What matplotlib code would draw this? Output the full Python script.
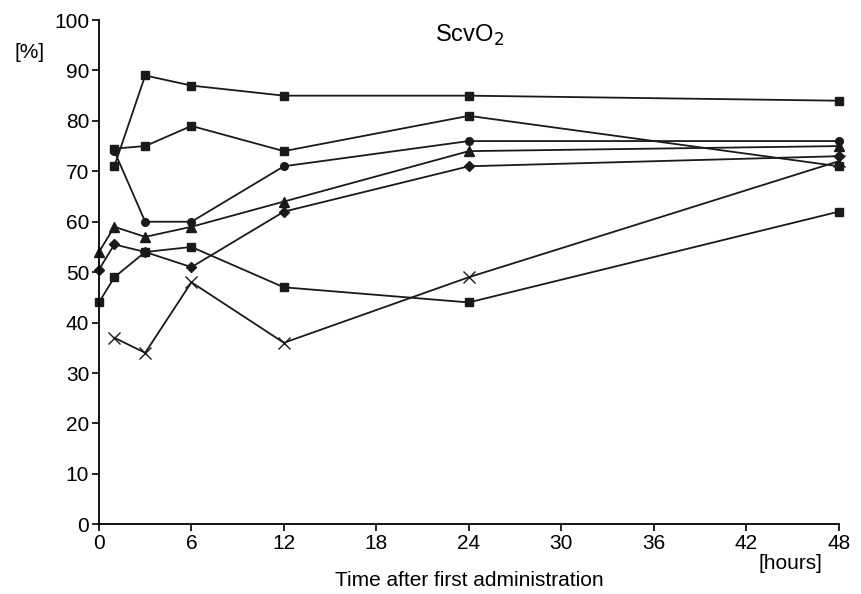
import matplotlib
matplotlib.use("Agg")
import matplotlib.pyplot as plt

plt.rcParams['font.family'] = ['Liberation Sans', 'DejaVu Sans']

# hours after first administration
hours = [0, 1, 3, 6, 12, 24, 48]

# ScvO2 [%] per patient (None = not measured)
sq_top = [None, 71, 89, 87, 85, 85, 84]
sq_mid = [None, 74.5, 75, 79, 74, 81, 71]
circles = [None, 74, 60, 60, 71, 76, 76]
triangles = [54, 59, 57, 59, 64, 74, 75]
diamonds = [50.5, 55.5, 54, 51, 62, 71, 73]
sq_low = [44, 49, 54, 55, 47, 44, 62]
crosses = [None, 37, 34, 48, 36, 49, 72]

series = [
    (sq_top, 's'),
    (sq_mid, 's'),
    (circles, 'o'),
    (triangles, '^'),
    (diamonds, 'D'),
    (sq_low, 's'),
    (crosses, 'x'),
]

fig = plt.figure(figsize=(8.62, 5.94), dpi=100)
ax = fig.add_axes([0.1148, 0.1173, 0.8582, 0.849])

for vals, mk in series:
    xs = [h for h, v in zip(hours, vals) if v is not None]
    ys = [v for v in vals if v is not None]
    size = {'s': 5.5, 'o': 5.5, '^': 6.5, 'D': 5, 'x': 9}[mk]
    ax.plot(xs, ys, color='#1a1a1a', lw=1.3, marker=mk, ms=size,
            mew=1.0, mfc='#1a1a1a', mec='#1a1a1a', clip_on=False)

ax.set_xlim(0, 48)
ax.set_ylim(0, 100)
ax.set_xticks(range(0, 49, 6))
ax.set_yticks(range(0, 101, 10))
ax.spines['top'].set_visible(False)
ax.spines['right'].set_visible(False)
ax.spines['left'].set_linewidth(1.3)
ax.spines['bottom'].set_linewidth(1.3)
ax.tick_params(axis='both', labelsize=15, length=5, width=1.2, direction='out')
ax.tick_params(axis='y', pad=2)
ax.tick_params(axis='x', pad=2)

fig.text(0.545, 0.94, 'ScvO$_2$', fontsize=17, ha='center', va='center')
fig.text(0.017, 0.912, '[%]', fontsize=15, ha='left', va='center')
fig.text(0.917, 0.052, '[hours]', fontsize=15, ha='center', va='center')
fig.text(0.544, 0.022, 'Time after first administration', fontsize=15,
         ha='center', va='center')

fig.savefig('out.png', dpi=100)
